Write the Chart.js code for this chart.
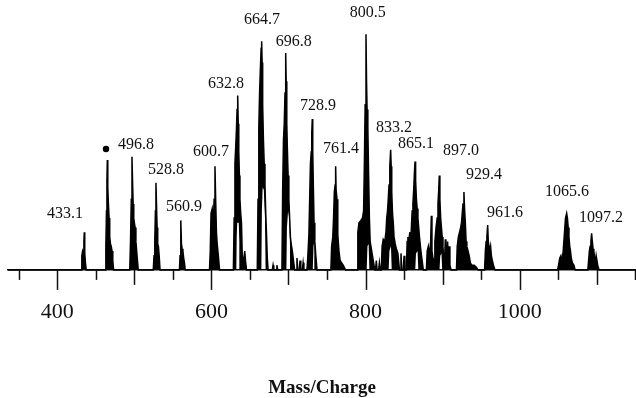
<!DOCTYPE html>
<html>
<head>
<meta charset="utf-8">
<script src="https://cdn.jsdelivr.net/npm/chart.js@4/dist/chart.umd.min.js"></script>
<style>
html,body{margin:0;padding:0;background:#fff;}
#wrap{width:636px;height:398px;}
</style>
</head>
<body>
<div id="wrap"><canvas id="c" width="636" height="398"></canvas></div>
<script>
// ---- data (m/z, relative intensity %) ----
const spectrumMz = [
  336,
  431,431.8,432.8,433.8,434.5,435,435.6,436.5,437.5,
  462,463,463.8,464.4,464.9,465.5,466.3,467.2,468,469,470,471,472,473,
  494,495,496,496.9,497.6,498.4,499.2,500,501,502,503,504,505,
  524.5,525.5,526.5,527.3,528,528.7,529.5,530.3,531.2,532.2,533.3,
  558.5,559.3,560,560.5,561.1,562,563,564,565,566,
  597.5,598.5,599.5,601,602.5,603.5,604.6,605.5,606.5,607.5,609,610.5,
  628.5,629.5,630.5,631.5,632.5,633.3,634.1,634.8,635.5,636.3,637,638,639,640,641.5,643.2,644.2,645.5,
  659.5,660.5,661.5,662.5,663.5,664.5,665.2,665.8,666.5,667.5,668.5,669.5,670.5,671.5,672.5,673.5,
  679,680,681,684,685,686,
  691.5,692.5,693.5,694.5,695.5,696.4,697,697.8,698.5,699.5,700.5,701.5,702.5,703.5,705,706.5,708,
  710,711,712,714,715,716,718,719,720,
  724,725,726.5,727.5,728.5,729.5,730.2,730.9,731.5,732.3,733.2,734.2,735.5,737,
  755,756,757.5,758.5,759.5,760.5,761.2,761.8,763,764,765.5,767,769,771,774,
  789,790,791.5,794,796,797.5,798.5,799.5,800.6,801.3,802,803,804,805,806,807.5,809,810.5,812,
  813,814,815,817,818,819,
  820.5,821.5,823,825,826.5,827.5,828.5,829.5,830.5,831.5,832.6,833.3,834,835,836,837,838.5,840,842,844,
  845,846,847,849,850,851,
  853,854,855,856,857.5,858.5,859.5,860.5,861.5,862.5,863.3,864.2,865,866,867,868,869,870,871.5,873,875,
  879,880,881.5,883,884.5,885.4,886.2,887.5,889,890,891.5,893,894,895,895.7,896.5,897.5,898.5,899.5,900.5,901.5,902.5,903.5,904.3,905.5,906.5,907.5,908.5,909.5,911,
  918,919,920.5,922,923.5,924.5,925.5,926.5,927.7,928.5,929.5,930.5,931.5,933,934.5,936,938,941,944,946,
  954.5,955.5,956.5,957.5,958.5,959.3,960.3,961.3,962.3,963.3,964.5,966,968,
  1049,1050.5,1052,1053.5,1055,1056.5,1058,1059.5,1061,1062,1063,1064,1065,1066,1067,1068.5,1070.5,1072,
  1088.5,1089.5,1090.5,1091.5,1092.5,1093.4,1094.3,1095.3,1096.3,1097.3,1098.3,1099.3,1100.3,1101.3,1103,
  1151
];
const spectrumIntensity = [
  0,
  0,6,8,7,12,16,7,3,0,
  0,10,25,38,46.6,35,28,22,14,11,10,8,4,0,
  0,12,30,48,38,28,22,20,18,12,8,4,0,
  0,6,12,25,37,28,18,11,10,6,0,
  0,6,10,21,11,9,8,5,3,0,
  0,8,24,26,20,30,44,30,16,11,6,0,
  0,22,45,52,60,68,74,62,50,40,30,24,20,6,3,8,4,0,
  0,30,60,75,85,94,97,88,70,55,45,36,24,15,5,0,
  0,2,0,0,2,0,
  0,35,55,62,75,92,80,62,52,40,30,22,14,11,8,4,0,
  0,5,0,0,4,0,0,3,0,
  0,5,15,30,45,50,58,64,50,35,20,12,6,0,
  0,10,14,22,33,36,44,34,30,15,8,4,3,2,0,
  0,16,20,21,22,25,45,70,100,80,68,60,40,22,12,9,6,3,0,
  0,4,0,0,3,0,
  0,10,13,12,16,22,25,30,36,44,51,44,33,24,20,14,11,9,7,0,
  0,7,0,0,6,0,
  0,12,14,12,16,10,18,25,28,34,40,46,38,30,26,22,18,14,9,5,0,
  0,8,10,6,12,23,8,5,4,12,18,22,28,34,40,30,22,18,14,10,4,2,13,2,3,12,4,10,2,0,
  0,10,14,16,18,20,24,28,33,26,20,12,10,8,6,3,2,2,1,0,
  0,8,12,14,19,12,10,8,10,6,4,2,0,
  0,2,5,6,3,8,15,22,24,22,18,14,10,8,5,3,2,0,
  0,4,8,10,12,15.5,12,9,8,5,3,6,6,2,0,
  0
];
// lower edge of the filled trace (white gaps inside the broad clusters)
const gapMz = [336,632.3,632.8,633.5,635.5,636.2,636.6,664.8,665.5,666.5,668,669.5,670.3,697.3,698,699.5,701,702,702.5,731.5,732.5,733.5,734.3,801.5,802.5,804,805,830,831,833,834,864.5,865.5,867.5,868.5,896,897,898.5,899.5,1151];
const gapIntensity = [0,0,14,20,20,12,0,0,25,35,34,22,0,0,18,25,22,10,0,0,10,12,0,0,10,11,0,0,8,10,0,0,7,8,0,0,6,7,0,0];

const peakLabels = ['433.1','496.8','528.8','560.9','600.7','632.8','664.7','696.8','728.9','761.4','800.5','833.2','865.1','897.0','929.4','961.6','1065.6','1097.2'];
const labelMz = [410,502,541,564.4,599.4,619,665.6,707,738.3,768,803,837,865.5,923.9,953.7,981,1061.4,1105.5];
const labelIntensity = [23.7,53,42.4,26.7,50,78.9,106,96.7,69.5,51.3,109,60.2,53.4,50.5,40.3,24.2,33,22];

const markerMz = [463.2];
const markerIntensity = [51.3];

const tickValues = [350,400,450,500,550,600,650,700,750,800,850,900,950,1000,1050,1100,1150];
const tickLabels = [400, 600, 800, 1000];
const axisTitle = 'Mass/Charge';

// ---- chart ----
const toPts = (xs, ys) => xs.map((x, i) => ({x: x, y: ys[i]}));

const peakLabelPlugin = {
  id: 'peakLabels',
  afterDatasetsDraw(chart) {
    const ctx = chart.ctx, xs = chart.scales.x, ys = chart.scales.y;
    ctx.save();
    ctx.font = '16px "Liberation Serif"';
    ctx.fillStyle = '#111';
    ctx.textAlign = 'center';
    ctx.textBaseline = 'middle';
    peakLabels.forEach((t, i) => {
      ctx.fillText(t, xs.getPixelForValue(labelMz[i]), ys.getPixelForValue(labelIntensity[i]));
    });
    ctx.restore();
  }
};

const tickMarkPlugin = {
  id: 'tickMarks',
  afterDraw(chart) {
    const ctx = chart.ctx, xs = chart.scales.x, base = chart.chartArea.bottom;
    ctx.save();
    ctx.strokeStyle = '#111';
    ctx.lineWidth = 1.5;
    xs.ticks.forEach(t => {
      const v = t.value;
      const len = (v % 200 === 0) ? 20 : (v % 100 === 0) ? 15 : 10;
      const px = Math.round(xs.getPixelForValue(v)) + 0.5;
      ctx.beginPath();
      ctx.moveTo(px, base);
      ctx.lineTo(px, base + len);
      ctx.stroke();
    });
    ctx.restore();
  }
};

new Chart(document.getElementById('c'), {
  type: 'line',
  data: {
    datasets: [
      {
        data: toPts(spectrumMz, spectrumIntensity),
        borderColor: '#000',
        backgroundColor: '#000',
        borderWidth: 1.5,
        pointRadius: 0,
        pointHoverRadius: 0,
        tension: 0,
        fill: 1,
        clip: false
      },
      {
        data: toPts(gapMz, gapIntensity),
        borderColor: 'rgba(0,0,0,0)',
        borderWidth: 0,
        pointRadius: 0,
        pointHoverRadius: 0,
        tension: 0,
        fill: false
      },
      {
        data: toPts(markerMz, markerIntensity),
        showLine: false,
        pointRadius: 3.2,
        pointHoverRadius: 3.2,
        pointBackgroundColor: '#000',
        pointBorderColor: '#000',
        pointBorderWidth: 0
      }
    ]
  },
  options: {
    responsive: false,
    devicePixelRatio: 1,
    animation: false,
    events: [],
    layout: { autoPadding: false, padding: { left: 8, right: 0, top: 20, bottom: 0 } },
    plugins: {
      legend: { display: false },
      tooltip: { enabled: false },
      title: {
        display: true,
        position: 'bottom',
        text: axisTitle,
        color: '#111',
        font: { family: 'Liberation Serif', size: 19, weight: 'bold', lineHeight: 1 },
        padding: { top: 44, bottom: 0 }
      }
    },
    scales: {
      x: {
        type: 'linear',
        min: 336,
        max: 1151,
        afterBuildTicks: (s) => { s.ticks = tickValues.map(v => ({ value: v })); },
        border: { display: true, color: '#111', width: 1.5 },
        grid: {
          display: true,
          drawOnChartArea: false,
          drawTicks: true,
          tickLength: 20,
          tickColor: 'rgba(0,0,0,0)'
        },
        ticks: {
          autoSkip: false,
          maxRotation: 0,
          padding: 0,
          color: '#111',
          font: { family: 'Liberation Serif', size: 22, lineHeight: 2.05 },
          callback: (v) => tickLabels.includes(v) ? String(v) : ''
        }
      },
      y: {
        type: 'linear',
        display: false,
        min: 0,
        max: 106
      }
    }
  },
  plugins: [peakLabelPlugin, tickMarkPlugin]
});
</script>
</body>
</html>
